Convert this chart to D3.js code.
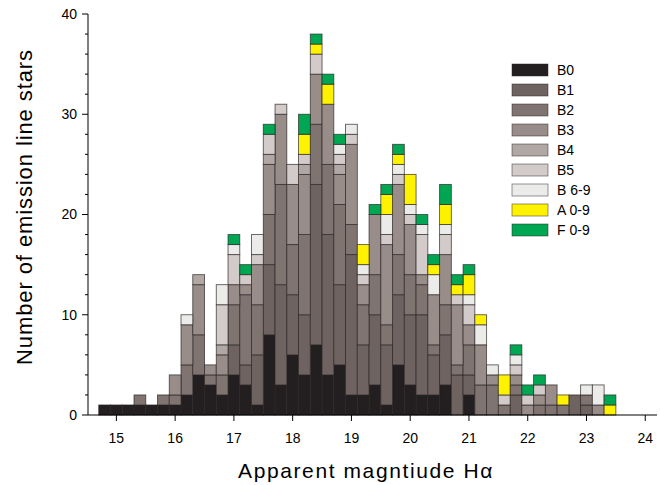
<!DOCTYPE html>
<html><head><meta charset="utf-8">
<script src="https://cdn.jsdelivr.net/npm/d3@7"></script>
<style>
html,body{margin:0;padding:0;background:#fff;}
svg{display:block;font-family:"Liberation Sans",Arial,sans-serif;}
</style></head>
<body><svg id="c" width="660" height="485"></svg>
<script>
const bins = [14.8,15.0,15.2,15.4,15.6,15.8,16.0,16.2,16.4,16.6,16.8,17.0,17.2,17.4,17.6,17.8,18.0,18.2,18.4,18.6,18.8,19.0,19.2,19.4,19.6,19.8,20.0,20.2,20.4,20.6,20.8,21.0,21.2,21.4,21.6,21.8,22.0,22.2,22.4,22.6,22.8,23.0,23.2,23.4];
const B0 = [1,1,1,1,1,1,1,2,4,3,2,4,3,1,8,3,6,4,7,4,5,2,2,3,1,5,3,2,2,3,0,2,0,0,0,0,0,0,0,0,0,0,0,0];
const B1 = [0,0,0,0,0,0,0,0,0,0,0,3,2,5,7,10,6,6,16,14,8,14,5,7,6,7,7,8,4,5,4,2,0,0,0,2,0,0,0,0,2,1,0,0];
const B2 = [0,0,0,1,0,1,1,3,4,1,2,4,7,5,5,10,5,8,6,7,8,3,4,4,2,4,4,3,1,3,1,3,3,3,1,1,0,1,1,1,0,1,0,0];
const B3 = [0,0,0,0,0,0,2,4,5,1,2,2,1,4,5,7,6,6,5,6,3,8,2,6,8,7,5,1,5,5,6,2,4,1,0,1,1,1,2,0,0,0,1,0];
const B4 = [0,0,0,0,0,0,0,0,1,0,1,0,0,0,1,0,0,1,0,0,1,0,0,0,0,0,0,0,0,0,0,0,0,0,0,0,0,0,0,0,0,0,0,0];
const B5 = [0,0,0,0,0,0,0,0,0,0,4,3,1,1,2,1,2,1,2,0,1,1,1,0,1,1,1,4,0,2,1,2,0,0,1,1,1,1,0,0,0,0,0,0];
const B69 = [0,0,0,0,0,0,0,1,0,0,2,1,0,2,0,0,0,0,0,0,1,1,1,0,2,1,1,1,2,1,0,1,2,1,0,1,0,0,0,0,0,1,2,0];
const A09 = [0,0,0,0,0,0,0,0,0,0,0,0,0,0,0,0,0,2,1,2,0,0,2,0,2,1,3,0,1,2,1,2,1,0,2,0,0,0,0,1,0,0,0,1];
const F09 = [0,0,0,0,0,0,0,0,0,0,0,1,1,0,1,0,0,2,1,1,1,0,0,1,1,1,0,1,1,2,1,1,0,0,0,1,1,1,0,0,0,0,0,1];
const seriesNames = ["B0","B1","B2","B3","B4","B5","B 6-9","A 0-9","F 0-9"];
const seriesValues = [B0,B1,B2,B3,B4,B5,B69,A09,F09];
const colors = ["#231f20","#6e6360","#807471","#998d8a","#b1a8a6","#d2cbc9","#ebebea","#fff200","#00a651"];
const xTicks = [15,16,17,18,19,20,21,22,23,24];
const yTicks = [0,10,20,30,40];
const binWidth = 0.2;

const svg = d3.select("#c");
const x = d3.scaleLinear().domain([14.5,24.2]).range([87,657]);
const y = d3.scaleLinear().domain([0,40]).range([415,14]);

const table = bins.map((b,i)=>{const o={bin:b}; seriesNames.forEach((n,k)=>o[n]=seriesValues[k][i]); return o;});
const stack = d3.stack().keys(seriesNames)(table);

const g = svg.append("g");
stack.forEach((layer,k)=>{
  g.selectAll(null).data(layer.filter(d=>d[1]>d[0])).enter().append("rect")
    .attr("x",d=>x(d.data.bin-binWidth/2))
    .attr("width",d=>x(d.data.bin+binWidth/2)-x(d.data.bin-binWidth/2))
    .attr("y",d=>y(d[1]))
    .attr("height",d=>y(d[0])-y(d[1]))
    .attr("fill",colors[k])
    .attr("stroke","#2b2526").attr("stroke-opacity",0.75).attr("stroke-width",0.9);
});

// axes
const yAxis = svg.append("g").attr("transform","translate(88,0)");
yAxis.append("line").attr("x1",0).attr("x2",0).attr("y1",y(40)).attr("y2",y(0)).attr("stroke","#000").attr("stroke-width",1);
d3.range(0,41,2).forEach(v=>{
  const major = v%10===0;
  yAxis.append("line").attr("x1",major?-6:-3).attr("x2",0).attr("y1",y(v)).attr("y2",y(v)).attr("stroke","#000").attr("stroke-width",1);
});
yAxis.selectAll("text.yt").data(yTicks).enter().append("text")
  .attr("x",-11).attr("y",d=>y(d)).attr("dy","0.35em").attr("text-anchor","end")
  .attr("font-size",14).attr("fill","#000").text(d=>d);

const xAxis = svg.append("g").attr("transform","translate(0,415)");
xAxis.append("line").attr("x1",88).attr("x2",657).attr("y1",0).attr("y2",0).attr("stroke","#000").attr("stroke-width",1);
xAxis.selectAll("line.xt").data(xTicks).enter().append("line")
  .attr("x1",d=>x(d)).attr("x2",d=>x(d)).attr("y1",0).attr("y2",6).attr("stroke","#000");
xAxis.selectAll("text.xt").data(xTicks).enter().append("text")
  .attr("x",d=>x(d)).attr("y",28).attr("text-anchor","middle")
  .attr("font-size",14).attr("fill","#000").text(d=>d);

svg.append("text").attr("x",366).attr("y",478).attr("text-anchor","middle")
  .attr("font-size",21).attr("letter-spacing",1.6).attr("fill","#000").text("Apparent magntiude H\u03b1");
svg.append("text").attr("transform","translate(32,207) rotate(-90)").attr("text-anchor","middle")
  .attr("font-size",22).attr("letter-spacing",0.9).attr("fill","#000").text("Number of emission line stars");

// legend
const leg = svg.append("g").attr("transform","translate(512,64)");
seriesNames.forEach((n,k)=>{
  leg.append("rect").attr("x",0).attr("y",k*20).attr("width",36).attr("height",12)
    .attr("fill",colors[k]).attr("stroke","#2b2526").attr("stroke-opacity",0.6).attr("stroke-width",0.8);
  leg.append("text").attr("x",45).attr("y",k*20+6).attr("dy","0.35em")
    .attr("font-size",14).attr("fill","#000").text(n);
});
</script></body></html>
